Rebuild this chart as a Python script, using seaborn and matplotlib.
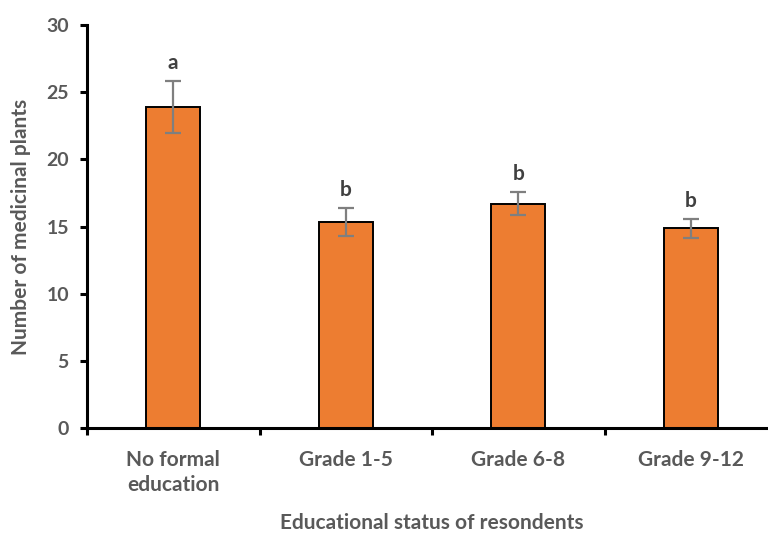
import matplotlib
matplotlib.use("Agg")
import matplotlib.pyplot as plt
import seaborn as sns
import pandas as pd
import numpy as np
from matplotlib.ticker import FixedLocator

categories = ["No formal\neducation", "Grade 1-5", "Grade 6-8", "Grade 9-12"]
means = [23.9, 15.35, 16.7, 14.87]
errors = [1.95, 1.05, 0.88, 0.70]
letters = ["a", "b", "b", "b"]
y_ticks = [0, 5, 10, 15, 20, 25, 30]

sns.set_theme(style="white")
plt.rcParams["font.family"] = ["Lato", "DejaVu Sans"]

df = pd.DataFrame({"cat": categories, "val": means})

fig = plt.figure(figsize=(7.68, 5.34), dpi=100)
ax = fig.add_axes([87 / 768, 106 / 534, 690 / 768, 403 / 534])

sns.barplot(data=df, x="cat", y="val", color="#ED7D31", saturation=1,
            width=0.315, edgecolor="black", linewidth=1.4, ax=ax, errorbar=None)

x = np.arange(len(categories))
ax.errorbar(x, means, yerr=errors, fmt="none", ecolor="#7F7F7F",
            elinewidth=1.6, capsize=5.5, capthick=1.6, zorder=5)

for xi, m, e, lab in zip(x, means, errors, letters):
    ax.text(xi, m + e + 0.9, lab, ha="center", va="baseline",
            fontsize=15, fontweight="bold", color="#404040")

ax.set_xlim(-0.5, len(categories) - 0.5)
ax.set_ylim(0, 30)
ax.set_yticks(y_ticks)

# x ticks at category boundaries
ax.xaxis.set_major_locator(FixedLocator(x))
ax.set_xticklabels(categories)
ax.xaxis.set_minor_locator(FixedLocator(np.arange(-0.5, len(categories) - 0.4, 1.0)))
ax.tick_params(axis="x", which="major", length=0, pad=16, labelsize=15,
               labelcolor="#595959")
ax.tick_params(axis="x", which="minor", length=5, width=2.2, color="black",
               direction="out", bottom=True)
ax.tick_params(axis="y", which="major", length=5, width=2.2, color="black",
               direction="out", left=True, labelsize=14, labelcolor="#595959", pad=8)
for lab in ax.get_xticklabels() + ax.get_yticklabels():
    lab.set_fontweight("bold")
for t in ax.get_xticklabels():
    t.set_linespacing(1.3)

for s in ["top", "right"]:
    ax.spines[s].set_visible(False)
for s in ["left", "bottom"]:
    ax.spines[s].set_color("black")
    ax.spines[s].set_linewidth(2.2)

ax.set_xlabel("Educational status of resondents", fontsize=15,
              fontweight="bold", color="#595959", labelpad=13)
ax.set_ylabel("Number of medicinal plants", fontsize=15,
              fontweight="bold", color="#595959", labelpad=11)

fig.savefig("out.png", dpi=100)
